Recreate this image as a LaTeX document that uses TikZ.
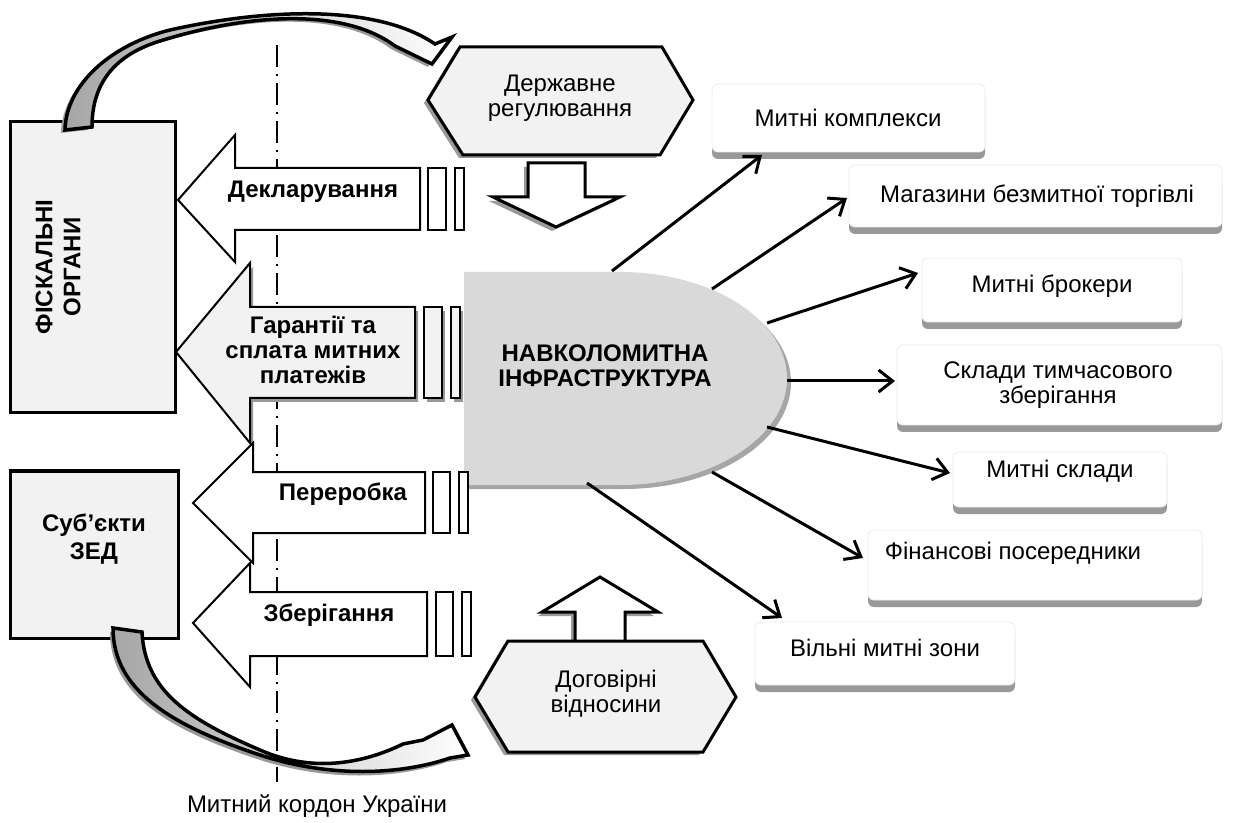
\documentclass[tikz,border=0pt]{standalone}
\usepackage{fontspec}
\setmainfont{Liberation Sans}
\usetikzlibrary{arrows.meta,positioning,fit,shadows}

\newcommand{\dfont}{\fontsize{12}{12.5}\selectfont}

\tikzset{
  txt/.style={font=\dfont, align=center, inner sep=0pt},
  lbl/.style={font=\dfont\bfseries, align=center, inner sep=0pt},
  heavy/.style={draw=black, line width=1.5pt, fill=black!5},
  flow/.style={draw=black, line width=1pt, fill=white},
  lightflow/.style={flow, fill=black!5},
  dropgray/.style={fill=black!40, draw=none},
  conn/.style={line width=1.5pt, -{Straight Barb[length=7pt,width=11pt]}},
  rbox/.style={draw=black!8, fill=white, rounded corners=3pt, inner sep=0pt, line width=0.4pt,
    drop shadow={shadow xshift=0pt, shadow yshift=-3.5pt, fill=black!40, opacity=1}},
  curved/.style={draw=black, line width=1.75pt, left color=black!35, right color=white},
  borderline/.style={line width=1pt, dash pattern=on 11pt off 3.5pt on 1pt off 3.5pt}
}

\begin{document}
\begin{tikzpicture}[x=0.5pt, y=-0.5pt]
\useasboundingbox (0,0) rectangle (1242,823);

%% customs border
\draw[borderline] (277,45) -- (277,782);
\node[txt] (kordon) at (317,806) {Митний кордон України};

%% left boxes
\draw[heavy] (10,122) rectangle (175,413);
\node[lbl, rotate=90] (fiskal) at (58,267) {ФІСКАЛЬНІ\\[1.5pt]ОРГАНИ};
\draw[heavy] (10,471) rectangle (178,638);
\node[lbl] (subject) at (94,539) {Суб’єкти\\[1.5pt]ЗЕД};

%% central shape
\fill[black!35, shift={(4,4)}] (464,272) -- (620,272) .. controls (712,272) and (787,320) .. (787,378.5)
  .. controls (787,437) and (712,485) .. (620,485) -- (464,485) -- cycle;
\fill[black!15] (464,272) -- (620,272) .. controls (712,272) and (787,320) .. (787,378.5)
  .. controls (787,437) and (712,485) .. (620,485) -- (464,485) -- cycle;
\node[lbl] (infra) at (605,366) {НАВКОЛОМИТНА\\ІНФРАСТРУКТУРА};

%% block arrows to the left
\draw[flow] (178,200) -- (235,135) -- (235,168) -- (420,168) -- (420,230) -- (235,230) -- (235,262) -- cycle;
\draw[flow] (428,168) rectangle (446,230);
\draw[flow] (455,168) rectangle (464,230);
\node[lbl] (decl) at (313,192) {Декларування};

\fill[dropgray, shift={(3,4)}] (176,352) -- (250,263) -- (250,307) -- (415,307) -- (415,398) -- (250,398) -- (250,443) -- cycle;
\fill[dropgray, shift={(3,4)}] (424,307) rectangle (442,398);
\fill[dropgray, shift={(3,4)}] (451,307) rectangle (460,398);
\draw[lightflow] (176,352) -- (250,263) -- (250,307) -- (415,307) -- (415,398) -- (250,398) -- (250,443) -- cycle;
\draw[lightflow] (424,307) rectangle (442,398);
\draw[lightflow] (451,307) rectangle (460,398);
\node[lbl] (garant) at (313,350) {Гарантії та\\сплата митних\\платежів};

\draw[flow] (193,503) -- (253,443) -- (253,472) -- (425,472) -- (425,533) -- (253,533) -- (253,563) -- cycle;
\draw[flow] (433,472) rectangle (450,533);
\draw[flow] (459,472) rectangle (468,533);
\node[lbl] (pererob) at (343,494) {Переробка};

\draw[flow] (193,623) -- (250,563) -- (250,592) -- (427,592) -- (427,656) -- (250,656) -- (250,687) -- cycle;
\draw[flow] (436,592) rectangle (453,656);
\draw[flow] (462,592) rectangle (471,656);
\node[lbl] (zberig) at (329,615) {Зберігання};

%% state regulation
\fill[dropgray, shift={(-4,3)}] (428,100) -- (460,47) -- (662,47) -- (693,100) -- (660,155) -- (463,155) -- cycle;
\draw[heavy] (428,100) -- (460,47) -- (662,47) -- (693,100) -- (660,155) -- (463,155) -- cycle;
\node[txt] (derzh) at (560,98) {Державне\\регулювання};
\fill[dropgray, shift={(-4,4)}] (528,163) -- (585,163) -- (585,197) -- (620,197) -- (556,227) -- (493,197) -- (528,197) -- cycle;
\draw[heavy, fill=white] (528,163) -- (585,163) -- (585,197) -- (620,197) -- (556,227) -- (493,197) -- (528,197) -- cycle;

%% contract relations
\fill[dropgray, shift={(-4,4)}] (575,645) -- (575,612) -- (542,612) -- (600,577) -- (658,612) -- (625,612) -- (625,645) -- cycle;
\draw[heavy, fill=white] (575,645) -- (575,612) -- (542,612) -- (600,577) -- (658,612) -- (625,612) -- (625,645) -- cycle;
\fill[dropgray, shift={(-4,3)}] (475,697) -- (508,641) -- (703,641) -- (736,697) -- (703,752) -- (508,752) -- cycle;
\draw[heavy] (475,697) -- (508,641) -- (703,641) -- (736,697) -- (703,752) -- (508,752) -- cycle;
\node[txt] (dogovir) at (606,694) {Договірні\\відносини};

%% curved arrows
\fill[dropgray, shift={(-4,3)}] (65,130) .. controls (66,85) and (110,45) .. (170,30) .. controls (250,12) and (370,0) .. (435,44)
  -- (452,37) -- (432,64) -- (395,46) .. controls (340,5) and (240,16) .. (160,41)
  .. controls (108,57) and (92,90) .. (92,127) -- cycle;
\shadedraw[curved] (65,130) .. controls (66,85) and (110,45) .. (170,30) .. controls (250,12) and (370,0) .. (435,44)
  -- (452,37) -- (432,64) -- (395,46) .. controls (340,5) and (240,16) .. (160,41)
  .. controls (108,57) and (92,90) .. (92,127) -- cycle;

\fill[dropgray, shift={(-3,4)}] (113,628) .. controls (113,690) and (170,725) .. (260,755) .. controls (330,778) and (400,775) .. (450,758)
  -- (468,755) -- (452,725) -- (423,740) -- (403,744) .. controls (360,765) and (310,772) .. (260,750)
  .. controls (190,720) and (145,692) .. (142,632) -- cycle;
\shadedraw[curved] (113,628) .. controls (113,690) and (170,725) .. (260,755) .. controls (330,778) and (400,775) .. (450,758)
  -- (468,755) -- (452,725) -- (423,740) -- (403,744) .. controls (360,765) and (310,772) .. (260,750)
  .. controls (190,720) and (145,692) .. (142,632) -- cycle;

%% infrastructure elements
\node[rbox, fit={(712,84) (985,152)}] (b1) {};
\node[txt] (t1) at (848,118) {Митні комплекси};
\node[rbox, fit={(849,165) (1222,227)}] (b2) {};
\node[txt] (t2) at (1037,196) {Магазини безмитної торгівлі};
\node[rbox, fit={(922,258) (1182,322)}] (b3) {};
\node[txt] (t3) at (1052,286) {Митні брокери};
\node[rbox, fit={(897,345) (1222,425)}] (b4) {};
\node[txt] (t4) at (1058,385) {Склади тимчасового\\зберігання};
\node[rbox, fit={(953,452) (1167,507)}] (b5) {};
\node[txt] (t5) at (1060,471) {Митні склади};
\node[rbox, fit={(868,530) (1202,600)}] (b6) {};
\node[txt] (t6) at (1013,553) {Фінансові посередники};
\node[rbox, fit={(755,622) (1015,685)}] (b7) {};
\node[txt] (t7) at (885,648) {Вільні митні зони};

%% connectors
\coordinate (s1) at (612,271);
\coordinate (s2) at (712,289);
\coordinate (s3) at (767,323);
\coordinate (s4) at (787,381);
\coordinate (s5) at (767,427);
\coordinate (s6) at (712,472);
\coordinate (s7) at (587,483);
\coordinate (m1) at (762,155);
\coordinate (m2) at (847,198);
\coordinate (m3) at (918,273);
\coordinate (m4) at (895,381);
\coordinate (m5) at (950,473);
\coordinate (m6) at (863,558);
\coordinate (m7) at (782,618);
\foreach \i in {1,...,7}
  \draw[conn] (s\i) -- (m\i);
\end{tikzpicture}
\end{document}
